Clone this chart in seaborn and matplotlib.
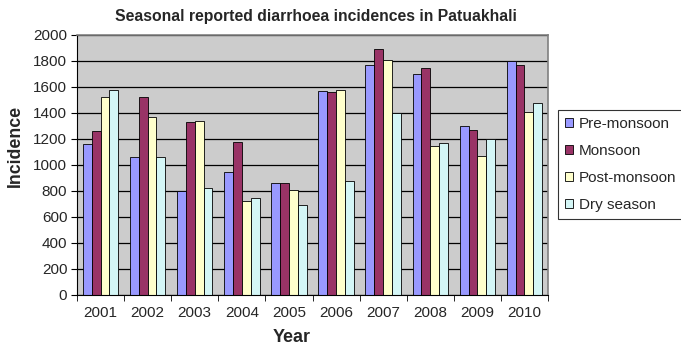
import matplotlib
matplotlib.use("Agg")
import matplotlib.pyplot as plt
import seaborn as sns
import pandas as pd
import numpy as np

years = ["2001", "2002", "2003", "2004", "2005", "2006", "2007", "2008", "2009", "2010"]
pre_monsoon = [1160, 1060, 800, 950, 860, 1570, 1770, 1700, 1300, 1800]
monsoon = [1260, 1520, 1330, 1180, 860, 1560, 1890, 1750, 1270, 1770]
post_monsoon = [1520, 1370, 1340, 720, 810, 1580, 1810, 1150, 1070, 1410]
dry_season = [1580, 1060, 820, 750, 690, 880, 1400, 1170, 1200, 1480]
seasons = ["Pre-monsoon", "Monsoon", "Post-monsoon", "Dry season"]
colors = ["#9999FF", "#993366", "#FFFFCC", "#D4F6F6"]

df = pd.DataFrame({"Year": years * 4,
                   "Season": sum([[s] * len(years) for s in seasons], []),
                   "Incidence": pre_monsoon + monsoon + post_monsoon + dry_season})

sns.set_style("white")
plt.rcParams['font.family'] = ['Liberation Sans', 'DejaVu Sans']

fig = plt.figure(figsize=(6.81, 3.44), dpi=100)
ax = fig.add_axes([77 / 681, 1 - 295 / 344, 471 / 681, 260 / 344])
ax.set_facecolor("#CCCCCC")
ax.set_axisbelow(True)
ax.yaxis.grid(True, color="black", linewidth=0.9)

sns.barplot(data=df, x="Year", y="Incidence", hue="Season", hue_order=seasons,
            palette=colors, width=0.75, edgecolor="black", linewidth=0.6,
            saturation=1, ax=ax, legend=True)

ax.set_ylim(0, 2000)
ax.set_xlim(-0.5, 9.5)
ax.set_yticks(range(0, 2001, 200))
ax.tick_params(axis='y', labelsize=11, length=4, direction='out', left=True,
               color="black", pad=3)
ax.tick_params(axis='x', which='major', labelsize=11, length=0, pad=8)
ax.set_xticks(np.arange(-0.5, 10, 1), minor=True)
ax.tick_params(axis='x', which='minor', length=4, direction='out', bottom=True, color="black")
for s in ["top", "right"]:
    ax.spines[s].set_color("#808080")
    ax.spines[s].set_linewidth(1.2)
ax.spines["left"].set_color("black")
ax.spines["bottom"].set_color("black")

ax.set_xlabel("")
ax.set_ylabel("")
fig.text(292 / 681, 1 - 337 / 344, "Year", fontsize=13, fontweight="bold",
         ha="center", va="center")
fig.text(15 / 681, 1 - 146 / 344, "Incidence", fontsize=12.8, fontweight="bold",
         ha="center", va="center", rotation=90)
fig.text(316 / 681, 1 - 17 / 344, "Seasonal reported diarrhoea incidences in Patuakhali",
         fontsize=11.3, fontweight="bold", ha="center", va="center")

leg = ax.legend(loc="center left", bbox_to_anchor=((558 - 77) / 471, (295 - 164.5) / 260),
                frameon=True, fancybox=False, edgecolor="black", fontsize=11,
                handlelength=0.52, handleheight=0.52, labelspacing=0.85,
                borderpad=0.45, handletextpad=0.4, borderaxespad=0)
leg.get_frame().set_linewidth(0.8)
for h in leg.legend_handles:
    h.set_edgecolor("black")
    h.set_linewidth(0.6)

fig.savefig("out.png", dpi=100)
